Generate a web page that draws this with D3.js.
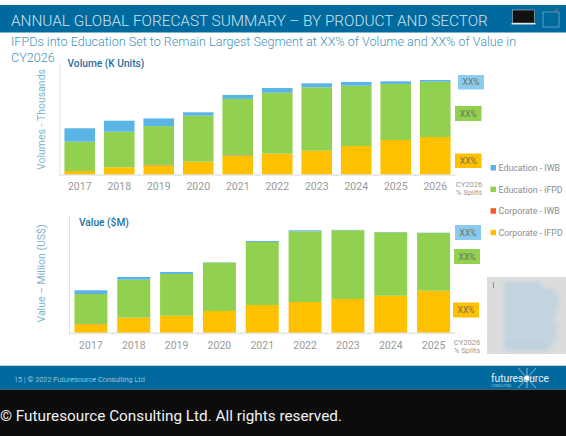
<!DOCTYPE html>
<html><head><meta charset="utf-8">
<script src="https://cdn.jsdelivr.net/npm/d3@7/dist/d3.min.js"></script>
<style>html,body{margin:0;padding:0;background:#fff}svg{display:block}text{font-family:Roboto,sans-serif}</style>
</head><body><div id="c"></div>
<script>
const volYears=["2017","2018","2019","2020","2021","2022","2023","2024","2025","2026"];
const volCorpIFPD=[3.5,7.2,9,12.8,18.5,20.8,23.8,28.5,34.5,37.5];
const volCorpIWB=[0,0,0.4,0,0.6,0,0,0,0,0];
const volEduIFPD=[29.3,35.6,39,46,56.5,61,63.4,60.3,56,55.3];
const volEduIWB=[13.4,11,7.7,3.4,4,4.7,4,3.7,2.7,1.7];
const valYears=["2017","2018","2019","2020","2021","2022","2023","2024","2025"];
const valCorpIFPD=[8.4,15,17,21.7,27.7,30.7,33.7,37,42];
const valCorpIWB=[0.3,0,0,0,0,0,0,0,0];
const valEduIFPD=[30,38,41.7,48.3,63,70.7,68.7,63.4,57.7];
const valEduIWB=[3.7,2.7,2,0.4,1,1,0.4,0.3,0.3];
const seriesNames=["Education - IWB","Education - iFPD","Corporate - IWB","Corporate - IFPD"];
const seriesColors=["#5ab4e6","#92d050","#f4591e","#ffc000"];
const splitLabels=["XX%","XX%","XX%"];

const svg=d3.select("#c").append("svg").attr("width",566).attr("height",436);
const hdr="#006a9e", grey="#999999";
// shrink or grow a text's font until it spans the wanted width
function fit(sel,w){
  const n=sel.node(), fs=parseFloat(sel.attr("font-size"));
  sel.attr("font-size",fs*w/n.getComputedTextLength());
  return sel;
}
svg.append("rect").attr("x",0).attr("y",5).attr("width",566).attr("height",27.5).attr("fill",hdr);
fit(svg.append("text").attr("x",11).attr("y",25.5).attr("fill","#cfe3ee").attr("font-size",18.6).attr("font-weight",300)
  .text("ANNUAL GLOBAL FORECAST SUMMARY – BY PRODUCT AND SECTOR"),477);
// device icons
svg.append("rect").attr("x",512.5).attr("y",10).attr("width",22).attr("height",13).attr("fill","#111").attr("stroke","#cfd8dc").attr("stroke-width",.5);
svg.append("rect").attr("x",511.5).attr("y",23).attr("width",24).attr("height",1.5).attr("fill","#dfe6ea");
svg.append("path").attr("d","M543 12H559V27H543Z").attr("fill","none").attr("stroke","#7fb3cf").attr("stroke-width",.7);
svg.append("path").attr("d","M552 12L558 8V12Z").attr("fill","#5f6f7a");
const sub=svg.append("g").attr("fill","#3f93bb").attr("font-weight",300);
fit(sub.append("text").attr("x",11).attr("y",46).attr("font-size",13.6).text("IFPDs into Education Set to Remain Largest Segment at XX% of Volume and XX% of Value in"),505);
sub.append("text").attr("x",11).attr("y",62).attr("font-size",12.6).text("CY2026");

function chart(o){
  const g=svg.append("g");
  const x=d3.scaleBand().domain(o.years).range(o.xr).paddingInner(o.pad).paddingOuter(o.pad/2);
  const y=d3.scaleLinear().domain([0,100]).range([o.base,o.base-100]);
  const rows=o.years.map((yr,i)=>({yr,a:o.s[0][i],b:o.s[1][i],c:o.s[2][i],d:o.s[3][i]}));
  const st=d3.stack().keys(["a","b","c","d"])(rows);
  const cols=[seriesColors[3],seriesColors[2],seriesColors[1],seriesColors[0]];
  g.selectAll("g.s").data(st).join("g").attr("fill",(d,i)=>cols[i])
    .selectAll("rect").data(d=>d).join("rect")
    .attr("x",d=>x(d.data.yr)).attr("width",x.bandwidth())
    .attr("y",d=>y(d[1])).attr("height",d=>y(d[0])-y(d[1]));
  const ax=g.append("g").attr("transform",`translate(0,${o.base})`)
    .call(d3.axisBottom(x).tickSize(0).tickPadding(8.5));
  ax.select(".domain").attr("stroke","#d9d9d9");
  ax.selectAll("text").attr("fill",grey).attr("font-size",10.5).attr("font-family","Roboto,sans-serif");
  // small ticks on the band boundaries
  g.append("g").selectAll("line").data(o.years).join("line")
    .attr("x1",d=>x(d)-x.step()*o.pad/2).attr("x2",d=>x(d)-x.step()*o.pad/2)
    .attr("y1",o.base).attr("y2",o.base+2).attr("stroke","#d9d9d9");
  g.append("line").attr("x1",o.xr[0]).attr("x2",o.xr[0]).attr("y1",o.axTop).attr("y2",o.base).attr("stroke","#e3e3e3");
  g.append("text").attr("transform",`translate(${o.ylx},${o.yly}) rotate(-90)`).attr("text-anchor","middle")
    .attr("fill","#7fb4d0").attr("font-size",10.5).text(o.yl);
  g.append("text").attr("x",o.tx).attr("y",o.ty).attr("fill","#1f6f9f").attr("font-size",10.2).attr("font-weight",500).text(o.title);
  o.boxes.forEach((b,i)=>{
    g.append("rect").attr("x",b[0]).attr("y",b[1]).attr("width",b[2]).attr("height",b[3]).attr("fill",[seriesColors[3],seriesColors[1],"#8dcbee"][i]);
    g.append("text").attr("x",b[0]+b[2]/2).attr("y",b[1]+b[3]/2+3).attr("text-anchor","middle").attr("fill","#6b7060").attr("font-size",8.5).text(splitLabels[i]);
  });
  [["CY2026",o.base+12],["% Splits",o.base+20.5]].forEach(t=>g.append("text").attr("x",o.nx).attr("y",t[1]).attr("text-anchor","middle").attr("fill",grey).attr("font-size",7.6).text(t[0]));
}
chart({years:volYears,s:[volCorpIFPD,volCorpIWB,volEduIFPD,volEduIWB],xr:[60,455],pad:.225,base:174.5,axTop:64,ylx:45,yly:119.5,yl:"Volumes - Thousands",tx:67.5,ty:66.5,title:"Volume (K Units)",
  boxes:[[455,153.5,26.5,14.5],[455,106,26.5,15],[458,75,26,14.5]],nx:469});
chart({years:valYears,s:[valCorpIFPD,valCorpIWB,valEduIFPD,valEduIWB],xr:[69.5,455],pad:.23,base:332.7,axTop:216,ylx:45,yly:273.5,yl:"Value – Million (US$)",tx:79,ty:226,title:"Value ($M)",
  boxes:[[453,302.5,26,15],[454,249,26,15],[455,225,26,15]],nx:467});

const lg=svg.append("g").selectAll("g").data(seriesNames).join("g").attr("transform",(d,i)=>`translate(490.5,${168+i*21.6})`);
lg.append("rect").attr("y",-3).attr("width",5.5).attr("height",5.5).attr("fill",(d,i)=>seriesColors[i]);
lg.append("text").attr("x",8).attr("y",3).attr("fill","#8c8c8c").attr("font-size",8.8).text(d=>d);

// blurred note panel
const defs=svg.append("defs");
defs.append("filter").attr("id","bl").attr("x","-20%").attr("y","-20%").attr("width","140%").attr("height","140%").append("feGaussianBlur").attr("stdDeviation",2.6);
svg.append("rect").attr("x",487).attr("y",277).attr("width",79).attr("height",77).attr("fill","#dcdcdc");
svg.append("rect").attr("x",493).attr("y",282).attr("width",1).attr("height",6).attr("fill","#5a9cc8");
const notes=[[504,283,38],[504,290,52],[504,297,55],[504,304,54],[504,311,52],[504,318,50],[504,325,54],[504,332,52],[504,339,50],[504,345,46]];
svg.append("g").attr("filter","url(#bl)").selectAll("rect").data(notes).join("rect").attr("x",d=>d[0]).attr("y",d=>d[1]).attr("width",d=>d[2]).attr("height",4.5).attr("fill","#b4cfe0");

// footer
svg.append("rect").attr("x",0).attr("y",365.5).attr("width",566).attr("height",24).attr("fill",hdr);
svg.append("rect").attr("x",0).attr("y",365).attr("width",566).attr("height",1).attr("fill","#c5d5de");
svg.append("rect").attr("x",0).attr("y",389.5).attr("width",566).attr("height",46.5).attr("fill","#0c0c0c");
svg.append("text").attr("x",14).attr("y",382).attr("fill","#cfe0ea").attr("font-size",7.4).attr("font-weight",300).text("15  |  © 2022 Futuresource Consulting Ltd");
fit(svg.append("text").attr("x",491).attr("y",381.7).attr("fill","#e8f1f5").attr("font-size",11.8).text("futuresource"),58);
svg.append("text").attr("x",491).attr("y",386.5).attr("fill","#9cc6dc").attr("font-size",3.4).text("CONSULTING");
const sx=527,sy=378;
[[-9,-10,9,10],[9,-10,-9,10],[0,-10,0,10],[-7,0,7,0]].forEach(l=>svg.append("line").attr("x1",sx+l[0]).attr("y1",sy+l[1]).attr("x2",sx+l[2]).attr("y2",sy+l[3]).attr("stroke","#e8f1f5").attr("stroke-width",.6));
svg.append("circle").attr("cx",sx).attr("cy",sy).attr("r",2.4).attr("fill","#fff");
svg.append("text").attr("x",0).attr("y",421).attr("fill","#f2f2f2").attr("font-size",15.3).text("© Futuresource Consulting Ltd. All rights reserved.");
</script></body></html>
